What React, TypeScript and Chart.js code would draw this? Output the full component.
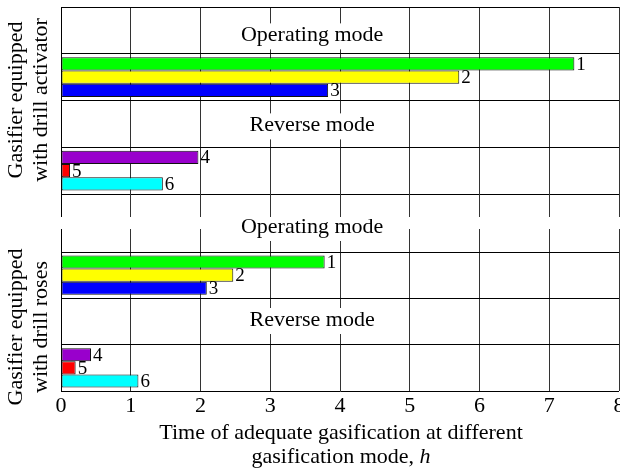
import React, { useEffect, useRef } from "react";
import { Chart, registerables } from "chart.js";

Chart.register(...registerables);

// ---------- data ----------
const xTicks = [0, 1, 2, 3, 4, 5, 6, 7, 8];
const modeLabels = ["Operating mode", "Reverse mode"];
const operatingNumbers = ["1", "2", "3"];
const reverseNumbers = ["4", "5", "6"];
const operatingColors = ["#00ff00", "#ffff00", "#0000ff"];
const reverseColors = ["#9900cc", "#ff0000", "#00ffff"];
const activatorOperating = [7.36, 5.71, 3.83];
const activatorReverse = [1.97, 0.13, 1.46];
const rosesOperating = [3.78, 2.47, 2.09];
const rosesReverse = [0.43, 0.21, 1.11];
const activatorTitle = ["Gasifier equipped", "with drill activator"];
const rosesTitle = ["Gasifier equipped", "with drill roses"];
const xTitleLine1 = "Time of adequate gasification at different";
const xTitleLine2 = "gasification mode, ";
const xTitleUnit = "h";

const OP = "operating bars";
const REV = "reverse bars";
const topCategories = [modeLabels[0], OP, modeLabels[1], REV];
const bottomCategories = [OP, modeLabels[1], REV];

const FONT = "'Liberation Serif', 'Times New Roman', serif";
const LABEL_X = 3.6;
const GRID_COLOR = "#333";

function makeDatasets(cats: string[], op: number[], rev: number[]) {
  return [0, 1, 2].map((s) => ({
    label: `${operatingNumbers[s]}/${reverseNumbers[s]}`,
    data: cats.map((c) => (c === OP ? op[s] : c === REV ? rev[s] : null)),
    backgroundColor: cats.map((c) => (c === REV ? reverseColors[s] : operatingColors[s])),
    borderColor: "#111",
    borderWidth: 1,
    borderSkipped: false,
    numbers: cats.map((c) => (c === OP ? operatingNumbers[s] : c === REV ? reverseNumbers[s] : "")),
    categoryPercentage: 0.85,
    barPercentage: 1,
  }));
}

function align(px: number) {
  return Math.round(px - 0.5) + 0.5;
}

function makePlugin(opts: {
  title: string[];
  titleOffset: number;
  extend: "down" | "up";
  labelOffsets: Record<string, number>;
  extraLabel?: string;
  xTitle?: boolean;
}) {
  return {
    id: "custom-" + opts.extend,
    afterDraw(chart: any) {
      const ctx = chart.ctx as CanvasRenderingContext2D;
      const area = chart.chartArea;
      const xs = chart.scales.x;
      const ys = chart.scales.y;
      ctx.save();
      // extension of vertical grid lines
      const y0 = opts.extend === "down" ? area.bottom : area.top - 23;
      const y1 = opts.extend === "down" ? area.bottom + 23 : area.top;
      ctx.lineWidth = 1;
      xTicks.forEach((v) => {
        const px = align(xs.getPixelForValue(v));
        ctx.strokeStyle = v === 0 ? "#000" : GRID_COLOR;
        ctx.beginPath();
        ctx.moveTo(px, y0);
        ctx.lineTo(px, y1);
        ctx.stroke();
      });

      // mode labels with white boxes
      ctx.font = `22px ${FONT}`;
      ctx.textAlign = "center";
      ctx.textBaseline = "alphabetic";
      const lx = xs.getPixelForValue(LABEL_X);
      const drawLabel = (text: string, baseline: number) => {
        const w = ctx.measureText(text).width;
        ctx.fillStyle = "#fff";
        ctx.fillRect(lx - w / 2 - 2, baseline - 18, w + 4, 26);
        ctx.fillStyle = "#000";
        ctx.fillText(text, lx, baseline);
      };
      const cats: string[] = chart.data.labels;
      cats.forEach((c, i) => {
        if (modeLabels.includes(c)) drawLabel(c, ys.getPixelForValue(i) + (opts.labelOffsets[c] ?? 7));
      });
      if (opts.extraLabel) drawLabel(opts.extraLabel, area.top - 19);

      // rotated y title
      const cy = (area.top + area.bottom) / 2 + opts.titleOffset;
      const baselines = [21.5, 47];
      opts.title.forEach((t, i) => {
        ctx.save();
        ctx.translate(baselines[i], cy);
        ctx.rotate(-Math.PI / 2);
        ctx.fillStyle = "#000";
        ctx.textAlign = "center";
        ctx.textBaseline = "alphabetic";
        ctx.fillText(t, 0, 0);
        ctx.restore();
      });

      // x axis title
      if (opts.xTitle) {
        const cx = (area.left + area.right) / 2 + 1;
        ctx.fillStyle = "#000";
        ctx.textAlign = "center";
        ctx.font = `22px ${FONT}`;
        ctx.fillText(xTitleLine1, cx, area.bottom + 48);
        const w1 = ctx.measureText(xTitleLine2).width;
        ctx.font = `italic 22px ${FONT}`;
        const w2 = ctx.measureText(xTitleUnit).width;
        const start = cx - (w1 + w2) / 2;
        ctx.textAlign = "left";
        ctx.font = `22px ${FONT}`;
        ctx.fillText(xTitleLine2, start, area.bottom + 72);
        ctx.font = `italic 22px ${FONT}`;
        ctx.fillText(xTitleUnit, start + w1, area.bottom + 72);
      }
      ctx.restore();
    },
    afterDatasetsDraw(chart: any) {
      const ctx = chart.ctx as CanvasRenderingContext2D;
      ctx.save();
      ctx.font = `19px ${FONT}`;
      ctx.fillStyle = "#000";
      ctx.textAlign = "left";
      ctx.textBaseline = "middle";
      chart.data.datasets.forEach((ds: any, i: number) => {
        const meta = chart.getDatasetMeta(i);
        meta.data.forEach((el: any, j: number) => {
          const t = ds.numbers[j];
          if (!t || ds.data[j] == null) return;
          ctx.fillText(t, el.x + 2, el.y + 1);
        });
      });
      ctx.restore();
    },
  };
}

function makeConfig(
  cats: string[],
  op: number[],
  rev: number[],
  showTicks: boolean,
  padTop: number,
  padBottom: number,
  plugin: any
): any {
  return {
    type: "bar",
    data: { labels: cats, datasets: makeDatasets(cats, op, rev) },
    options: {
      indexAxis: "y",
      responsive: false,
      animation: false,
      devicePixelRatio: 1,
      layout: { padding: { left: 61, right: 1, top: padTop, bottom: padBottom } },
      plugins: { legend: { display: false }, tooltip: { enabled: false } },
      scales: {
        x: {
          type: "linear",
          min: 0,
          max: 8,
          afterBuildTicks: (s: any) => {
            s.ticks = xTicks.map((v) => ({ value: v }));
          },
          afterFit: (s: any) => {
            s.paddingLeft = 0;
            s.paddingRight = 0;
            s.height = showTicks ? 79 : 0;
          },
          ticks: {
            display: showTicks,
            color: "#000",
            padding: 2,
            font: { family: FONT, size: 22 },
            maxRotation: 0,
            autoSkip: false,
          },
          grid: { color: GRID_COLOR, lineWidth: 1, drawTicks: false },
          border: { display: false },
        },
        y: {
          type: "category",
          ticks: { display: false },
          grid: { color: "#000", lineWidth: 1, drawTicks: false, offset: true },
          border: { display: true, color: "#000", width: 1 },
        },
      },
    },
    plugins: [plugin],
  };
}

export default function App() {
  const topRef = useRef<HTMLCanvasElement>(null);
  const botRef = useRef<HTMLCanvasElement>(null);

  useEffect(() => {
    const top = new Chart(
      topRef.current as HTMLCanvasElement,
      makeConfig(
        topCategories,
        activatorOperating,
        activatorReverse,
        false,
        7,
        23,
        makePlugin({
          title: activatorTitle,
          titleOffset: -0.5,
          extend: "down",
          labelOffsets: { "Operating mode": 11, "Reverse mode": 7.5 },
        })
      )
    );
    const bottom = new Chart(
      botRef.current as HTMLCanvasElement,
      makeConfig(
        bottomCategories,
        rosesOperating,
        rosesReverse,
        true,
        35,
        0,
        makePlugin({
          title: rosesTitle,
          titleOffset: 5.5,
          extend: "up",
          labelOffsets: { "Reverse mode": 4.5 },
          extraLabel: modeLabels[0],
          xTitle: true,
        })
      )
    );
    return () => {
      top.destroy();
      bottom.destroy();
    };
  }, []);

  return (
    <div style={{ position: "absolute", left: 0, top: 0, width: 620, height: 470, background: "#fff" }}>
      <canvas ref={topRef} width={620} height={217} style={{ position: "absolute", left: 0, top: 0, display: "block" }} />
      <canvas ref={botRef} width={620} height={253} style={{ position: "absolute", left: 0, top: 217, display: "block" }} />
    </div>
  );
}
